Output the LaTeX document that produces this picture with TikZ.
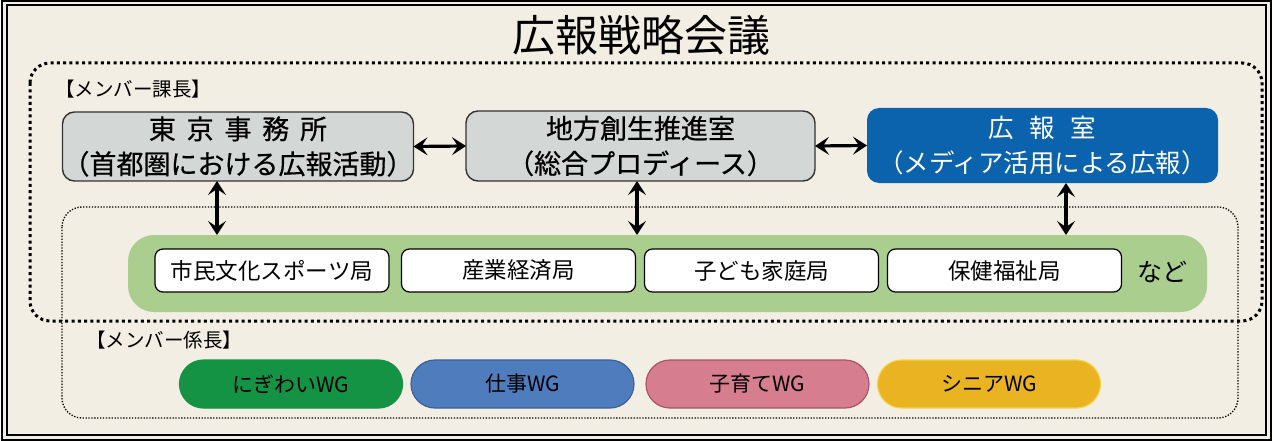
\documentclass[tikz,border=0pt]{standalone}
\usepackage{fontspec}
\setmainfont{Noto Sans CJK JP}
\usetikzlibrary{arrows.meta,calc,shapes.misc}
\definecolor{bg}{HTML}{F2EEE3}
\definecolor{greybox}{HTML}{D3D8D6}
\definecolor{bluebox}{HTML}{0B62AD}
\definecolor{band}{HTML}{A9CE8D}
\definecolor{wgGreen}{HTML}{149344}
\definecolor{wgBlue}{HTML}{4F7CBD}
\definecolor{wgBlueB}{HTML}{3B6199}
\definecolor{wgPink}{HTML}{D67D8F}
\definecolor{wgPinkB}{HTML}{A85566}
\definecolor{wgYellow}{HTML}{E9B321}
\definecolor{wgYellowB}{HTML}{F4D548}
\newcommand{\fsz}[2]{\fontsize{#1}{#2}\selectfont}
\begin{document}
\begin{tikzpicture}[x=1pt,y=-1pt,
  mainbox/.style={draw=black!80,line width=1.4pt,fill=greybox,rounded corners=12pt,
    inner sep=0pt,outer sep=0pt,align=center,font=\fsz{27}{35}\addfontfeature{FakeBold=0.6}},
  bluenode/.style={fill=bluebox,rounded corners=12pt,inner sep=0pt,outer sep=0pt,
    align=center,text=white,font=\fsz{25.5}{35}},
  kyoku/.style={draw=black,line width=1.2pt,fill=white,rounded corners=8pt,
    inner sep=0pt,outer sep=0pt,minimum width=234pt,minimum height=43pt,font=\fsz{22.5}{22}},
  wg/.style={rounded rectangle,inner sep=0pt,outer sep=0pt,minimum width=223pt,
    minimum height=48pt,line width=1.2pt,font=\fsz{21}{21}},
  link/.style={line width=3.2pt,{Stealth[length=14pt,width=18pt,inset=6pt]}-{Stealth[length=14pt,width=18pt,inset=6pt]}},
  bigdots/.style={line width=3pt,dash pattern=on 3pt off 3.3pt,rounded corners=20pt},
  smalldots/.style={line width=1.3pt,dash pattern=on 1.3pt off 1.6pt,rounded corners=20pt},
  lbl/.style={inner sep=0pt,font=\fsz{19.5}{19.5}}
]
\useasboundingbox (0,0) rectangle (1274,441);
\fill[white] (0,0) rectangle (1274,441);
\fill[bg] (2,1) rectangle (1271,440);
\draw[line width=1.4pt] (2,1) rectangle (1271,440);
\draw[line width=1.1pt] (7,5) rectangle (1266,435);

% title
\node[inner sep=0pt,font=\fsz{43}{43}] (title) at (641,35) {広報戦略会議};

% frames
\draw[bigdots] (30,63) rectangle (1262,321);
\draw[smalldots] (62,207) rectangle (1238,418);

\node[lbl,anchor=west] (lblka) at (55,89) {【メンバー課長】};
\node[lbl,anchor=west] (lblkakari) at (86,340) {【メンバー係長】};

% main boxes
\node[mainbox,minimum width=350pt,minimum height=69pt] (tokyo) at (238,146.5)
  {東\kern0.4em 京\kern0.4em 事\kern0.4em 務\kern0.4em 所\\（首都圏における広報活動）};
\node[mainbox,minimum width=349pt,minimum height=70pt] (chiho) at (640.5,146)
  {地方創生推進室\\（総合プロディース）};
\node[bluenode,minimum width=351pt,minimum height=75pt] (koho) at (1042.5,145.5)
  {広\kern0.6em 報\kern0.6em 室\\（メディア活用による広報）};

\draw[link] (tokyo.east) -- (chiho.west);
\draw[link] (chiho.east) -- (koho.west);

% green band
\node[fill=band,rounded corners=26pt,inner sep=0pt,outer sep=0pt,
  minimum width=1079pt,minimum height=77pt] (band) at (667.5,273.5) {};

\node[kyoku] (k1) at (272,270.5) {市民文化スポーツ局};
\node[kyoku] (k2) at (518.5,270.5) {産業経済局};
\node[kyoku] (k3) at (761.5,270.5) {子ども家庭局};
\node[kyoku] (k4) at (1004.5,270.5) {保健福祉局};
\node[inner sep=0pt,font=\fsz{25}{25}] (nado) at (1162,272) {など};

% vertical links
\coordinate (v1) at (217,0);
\coordinate (v2) at (637,0);
\coordinate (v3) at (1066,0);
\draw[link] (tokyo.south -| v1) -- (band.north -| v1);
\draw[link] (chiho.south -| v2) -- (band.north -| v2);
\draw[link] (koho.south -| v3) -- (band.north -| v3);

% working groups
\node[wg,fill=wgGreen,draw=wgGreen] (wg1) at (291,384) {にぎわいWG};
\node[wg,fill=wgBlue,draw=wgBlueB] (wg2) at (522.5,384) {仕事WG};
\node[wg,fill=wgPink,draw=wgPinkB] (wg3) at (757.5,384) {子育てWG};
\node[wg,fill=wgYellow,draw=wgYellowB] (wg4) at (989,384) {シニアWG};
\end{tikzpicture}
\end{document}
